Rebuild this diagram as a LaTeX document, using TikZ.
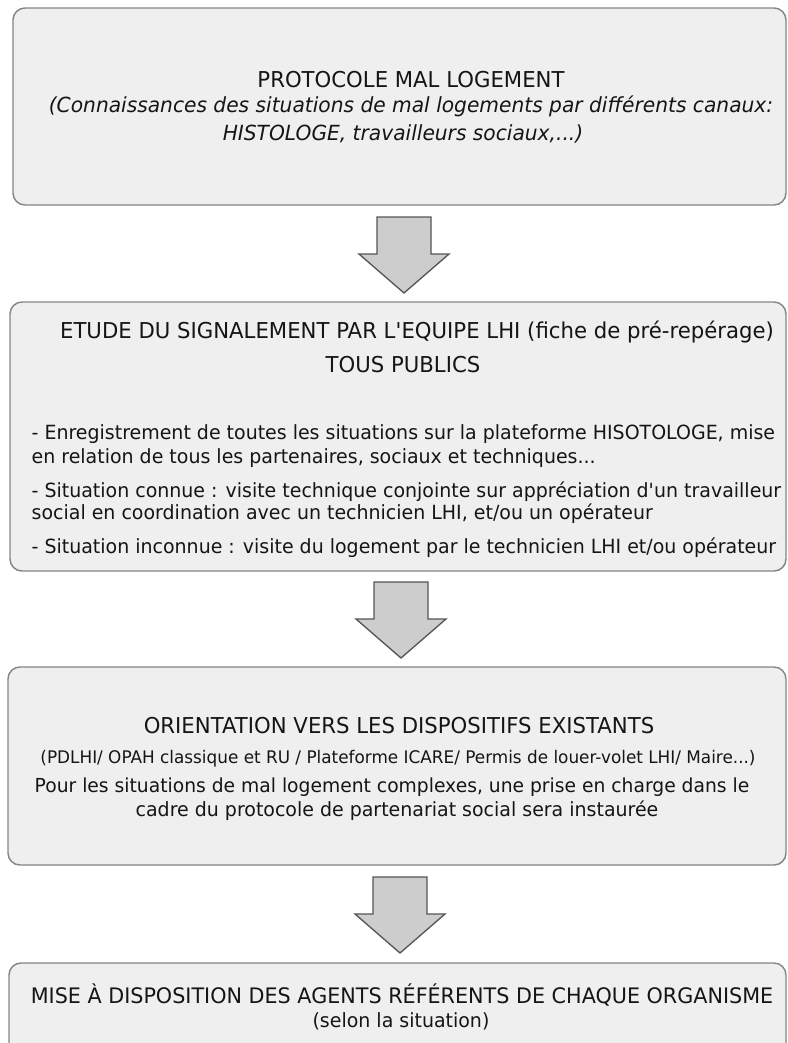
\documentclass[tikz,border=0pt]{standalone}
\usepackage{fontspec}
\setmainfont[FakeStretch=0.97]{DejaVu Sans}
\usepackage{tikz}
\definecolor{fondboite}{HTML}{EFEFEF}
\definecolor{bordboite}{HTML}{858585}
\definecolor{fondfleche}{HTML}{CDCDCD}
\definecolor{bordfleche}{HTML}{555555}
\definecolor{encre}{HTML}{151515}
\newcommand{\apos}{\textquotesingle}

\begin{document}
\begin{tikzpicture}[x=0.0265cm,y=-0.0265cm,
    boite/.style={fill=fondboite,draw=bordboite,line width=1.1pt,rounded corners=9pt},
    fleche/.style={fill=fondfleche,draw=bordfleche,line width=1pt,line join=miter}]
  \useasboundingbox (0,0) rectangle (787,1043);
  \clip (0,0) rectangle (787,1043);
  % cadres
  \draw[boite] (13,8) rectangle (786,205);
  \draw[boite] (10,302) rectangle (786,571);
  \draw[boite] (8,667) rectangle (786,865);
  \draw[boite] (9,963) rectangle (786,1080);
  % fleches
  \coordinate (f1) at (404,217); \coordinate (f2) at (401,582);
  \coordinate (f3) at (400,877);
  \foreach \ff in {f1,f2,f3}
    \draw[fleche] (\ff) ++(-27,0) -- ++(54,0) -- ++(0,37) -- ++(18,0)
      -- ++(-45,39) -- ++(-45,-39) -- ++(18,0) -- cycle;
  % titres
  \begin{scope}[font=\fontsize{16.5}{16.5}\selectfont,text=encre]
    \node[anchor=base] (t1) at (411,87)   {PROTOCOLE MAL LOGEMENT};
    \node[anchor=base] (t2) at (417,338)  {ETUDE DU SIGNALEMENT PAR L\apos EQUIPE LHI (fiche de pré-repérage)};
    \node[anchor=base] (t3) at (403,372)  {TOUS PUBLICS};
    \node[anchor=base] (t4) at (399,733)  {ORIENTATION VERS LES DISPOSITIFS EXISTANTS};
    \node[anchor=base,font=\fontsize{16.1}{16.1}\selectfont] (t5) at (402,1003)
      {MISE À DISPOSITION DES AGENTS RÉFÉRENTS DE CHAQUE ORGANISME};
  \end{scope}
  \begin{scope}[font=\fontsize{15.7}{15.7}\selectfont\itshape,text=encre]
    \node[anchor=base] (c1) at (411,112) {(Connaissances des situations de mal logements par différents canaux:};
    \node[anchor=base] (c2) at (403,140) {HISTOLOGE, travailleurs sociaux,...)};
  \end{scope}
  % texte courant
  \begin{scope}[font=\fontsize{14.75}{14.75}\selectfont,text=encre]
    \node[anchor=base west] (l1) at (27,439) {- Enregistrement de toutes les situations sur la plateforme HISOTOLOGE, mise};
    \node[anchor=base west] (l2) at (27,463) {en relation de tous les partenaires, sociaux et techniques...};
    \node[anchor=base west] (l3) at (27,497) {- Situation connue : visite technique conjointe sur appréciation d\apos un travailleur};
    \node[anchor=base west] (l4) at (27,519) {social en coordination avec un technicien LHI, et/ou un opérateur};
    \node[anchor=base west] (l5) at (27,553) {- Situation inconnue : visite du logement par le technicien LHI et/ou opérateur};
    \node[anchor=base,font=\fontsize{14.55}{14.55}\selectfont] (p2) at (392,792)
      {Pour les situations de mal logement complexes, une prise en charge dans le};
    \node[anchor=base] (p3) at (397,816) {cadre du protocole de partenariat social sera instaurée};
    \node[anchor=base] (s1) at (401,1027) {(selon la situation)};
  \end{scope}
  \begin{scope}[font=\fontsize{13.1}{13.1}\selectfont,text=encre]
    \node[anchor=base] (p1) at (398,763)  {(PDLHI/ OPAH classique et RU / Plateforme ICARE/ Permis de louer-volet LHI/ Maire...)};
  \end{scope}
\end{tikzpicture}
\end{document}
